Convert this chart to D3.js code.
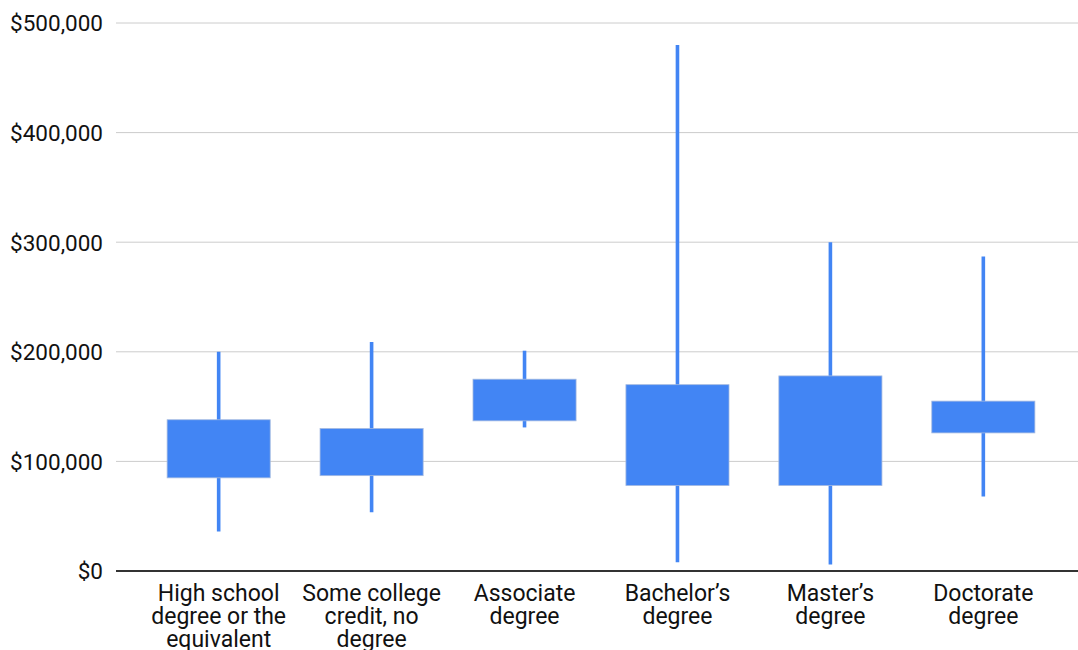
<!DOCTYPE html>
<html>
<head>
<meta charset="utf-8">
<script src="https://cdn.jsdelivr.net/npm/d3@7/dist/d3.min.js"></script>
<style>
  html, body { margin: 0; padding: 0; background: #fff; }
  svg { display: block; font-family: Roboto, "Noto Sans", Arial, sans-serif; }
</style>
</head>
<body>
<svg id="chart" width="1078" height="650"></svg>
<script>
// Earnings spread by education level (candlestick-style box per category)
const categories = [
  "High school degree or the equivalent",
  "Some college credit, no degree",
  "Associate degree",
  "Bachelor’s degree",
  "Master’s degree",
  "Doctorate degree"
];
// wrapped label lines for the category axis
const categoryLines = [
  ["High school", "degree or the", "equivalent"],
  ["Some college", "credit, no", "degree"],
  ["Associate", "degree"],
  ["Bachelor’s", "degree"],
  ["Master’s", "degree"],
  ["Doctorate", "degree"]
];
const lowValues  = [36000, 53500, 131000, 8000, 6000, 68000];
const boxBottom  = [85000, 87000, 137000, 78000, 78000, 126000];
const boxTop     = [138000, 130000, 175000, 170000, 178000, 155000];
const highValues = [200000, 209000, 201000, 480000, 300000, 287000];
const yTicks = [0, 100000, 200000, 300000, 400000, 500000];

const svg = d3.select("#chart");
const gridLeft = 116, gridRight = 1078;
const plotTop = 23, plotBottom = 571;

const y = d3.scaleLinear().domain([0, 500000]).range([plotBottom, plotTop]);
const x = d3.scaleBand().domain(categories).range([142.2, 1059.8]).paddingInner(0.326).paddingOuter(0.163);

const fmt = v => "$" + d3.format(",")(v);

// horizontal gridlines
svg.append("g")
  .selectAll("line")
  .data(yTicks.filter(t => t > 0))
  .join("line")
  .attr("x1", gridLeft).attr("x2", gridRight)
  .attr("y1", d => y(d)).attr("y2", d => y(d))
  .attr("stroke", "#cccccc").attr("stroke-width", 1);

// y axis labels
const yAxis = d3.axisLeft(y).tickValues(yTicks).tickFormat(fmt).tickSize(0).tickPadding(0);
const yG = svg.append("g").attr("transform", `translate(${103},0)`).call(yAxis);
yG.select(".domain").remove();
yG.selectAll("text")
  .attr("font-size", 22.5)
  .attr("font-family", "Roboto, sans-serif")
  .attr("fill", "#111")
  .attr("dy", "0.35em");

const data = categories.map((c, i) => ({
  c, lines: categoryLines[i], low: lowValues[i], q1: boxBottom[i], q3: boxTop[i], high: highValues[i]
}));

const marks = svg.append("g");
// whiskers
marks.selectAll("line.whisker")
  .data(data)
  .join("line")
  .attr("class", "whisker")
  .attr("x1", d => x(d.c) + x.bandwidth() / 2)
  .attr("x2", d => x(d.c) + x.bandwidth() / 2)
  .attr("y1", d => y(d.high))
  .attr("y2", d => y(d.low))
  .attr("stroke", "#4285f4")
  .attr("stroke-width", 3.6);

// boxes
marks.selectAll("rect.box")
  .data(data)
  .join("rect")
  .attr("class", "box")
  .attr("x", d => x(d.c))
  .attr("width", x.bandwidth())
  .attr("y", d => y(d.q3))
  .attr("height", d => y(d.q1) - y(d.q3))
  .attr("fill", "#4285f4")
  .attr("stroke", "#a3b9e0")
  .attr("stroke-width", 0.8);

// baseline
svg.append("line")
  .attr("x1", gridLeft).attr("x2", gridRight)
  .attr("y1", y(0)).attr("y2", y(0))
  .attr("stroke", "#333").attr("stroke-width", 1.8);

// category labels
const xLabels = svg.append("g")
  .selectAll("text")
  .data(data)
  .join("text")
  .attr("text-anchor", "middle")
  .attr("font-size", 23)
  .attr("fill", "#111")
  .attr("x", d => x(d.c) + x.bandwidth() / 2)
  .attr("y", y(0) + 30);
xLabels.selectAll("tspan")
  .data(d => d.lines.map(l => ({ l, cx: x(d.c) + x.bandwidth() / 2 })))
  .join("tspan")
  .attr("x", d => d.cx)
  .attr("dy", (d, i) => i === 0 ? 0 : 23)
  .text(d => d.l);
</script>
</body>
</html>
